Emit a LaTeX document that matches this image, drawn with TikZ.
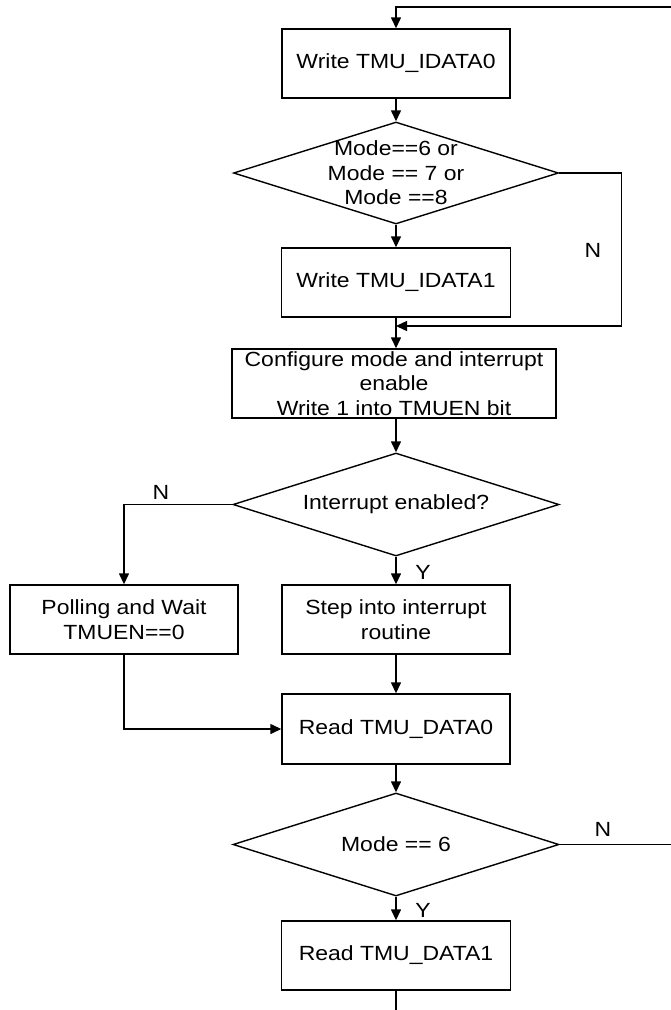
\documentclass[tikz,border=0pt]{standalone}
\usepackage{fontspec}
\setmainfont[FakeStretch=1.12]{Liberation Sans}
\usetikzlibrary{shapes.geometric,arrows.meta}
\begin{document}
\begin{tikzpicture}[x=1pt,y=-1pt,
  font=\fontsize{20.5}{24.5}\selectfont,
  line width=1.4pt,
  box/.style={draw, rectangle, align=center, inner sep=0pt},
  dec/.style={draw, diamond, inner sep=0pt},
  lbl/.style={align=center, inner sep=0pt},
  arr/.style={-{Triangle[length=11pt,width=10pt]}},
  yn/.style={inner sep=0pt}]
\useasboundingbox (0,0) rectangle (671,1010);
% nodes
\node[box, minimum width=228, minimum height=69] (b1) at (396,63.5) {Write TMU\_IDATA0};
\node[dec, minimum width=325, minimum height=102,
      label={[lbl]center:Mode==6 or\\Mode == 7 or\\Mode ==8}] (d1) at (396,173) {};
\node[box, minimum width=229, minimum height=69] (b2) at (396,282.5) {Write TMU\_IDATA1};
\coordinate (m1) at (396,326);
\node[box, minimum width=324, minimum height=69] (b3) at (394,383.5)
  {Configure mode and interrupt\\enable\\Write 1 into TMUEN bit};
\node[dec, minimum width=326, minimum height=103,
      label={[lbl]center:Interrupt enabled?}] (d2) at (396,504.5) {};
\node[box, minimum width=228, minimum height=69] (b4) at (124,619.5) {Polling and Wait\\TMUEN==0};
\node[box, minimum width=228, minimum height=69] (b5) at (396,619.5) {Step into interrupt\\routine};
\node[box, minimum width=228, minimum height=70] (b6) at (396,729) {Read TMU\_DATA0};
\node[dec, minimum width=326, minimum height=103,
      label={[lbl]center:Mode == 6}] (d3) at (396,844.5) {};
\node[box, minimum width=229, minimum height=69] (b7) at (396,955.5) {Read TMU\_DATA1};
\coordinate (t0) at (671,7);
\coordinate (e3) at (671,844.5);
\coordinate (e7) at (396,1010);
% labels
\node[yn] (n1) at (593,250) {N};
\node[yn] (n2) at (161,492) {N};
\node[yn] (y2) at (423,572) {Y};
\node[yn] (n3) at (603,829) {N};
\node[yn] (y3) at (423,910) {Y};
% connectors
\draw[arr] (t0) -| (b1.north);
\draw[arr] (b1.south) -- (d1.north);
\draw[arr] (d1.south) -- (b2.north);
\draw[arr] (d1.east) -- ++(62,0) |- (m1);
\draw[arr] (b2.south) -- (b3.north -| b2.south);
\draw[arr] (d2.north |- b3.south) -- (d2.north);
\draw[arr] (d2.west) -| (b4.north);
\draw[arr] (d2.south) -- (b5.north);
\draw[arr] (b4.south) |- (b6.west);
\draw[arr] (b5.south) -- (b6.north);
\draw[arr] (b6.south) -- (d3.north);
\draw (d3.east) -- (e3);
\draw[arr] (d3.south) -- (b7.north);
\draw (b7.south) -- (e7);
\end{tikzpicture}
\end{document}
